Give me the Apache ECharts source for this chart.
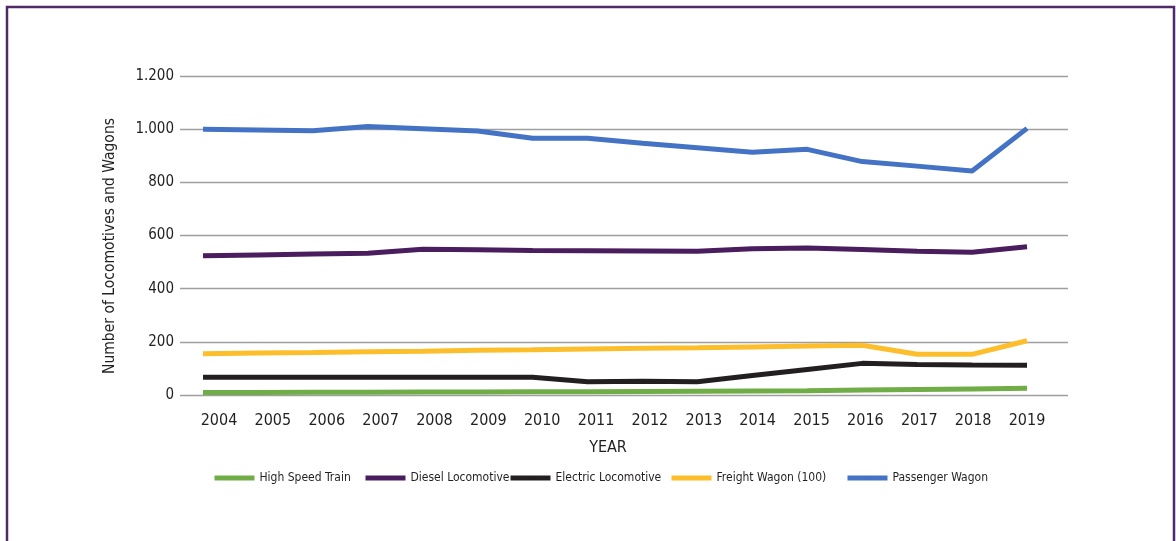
<!DOCTYPE html>
<html>
<head>
<meta charset="utf-8">
<script src="https://cdn.jsdelivr.net/npm/echarts@6/dist/echarts.min.js"></script>
<style>
  html, body { margin: 0; padding: 0; background: #fff; }
  #chart { width: 1176px; height: 541px; }
</style>
</head>
<body>
<div id="chart"></div>
<script>
const years = [2004, 2005, 2006, 2007, 2008, 2009, 2010, 2011, 2012, 2013, 2014, 2015, 2016, 2017, 2018, 2019];
const highSpeedTrain = [9, 9, 10, 10, 11, 11, 12, 12, 13, 14, 15, 16, 19, 21, 23, 25];
const dieselLocomotive = [524, 527, 530, 533, 548, 546, 544, 543, 542, 541, 550, 553, 547, 541, 537, 558];
const electricLocomotive = [67, 67, 67, 67, 67, 67, 67, 50, 52, 50, 73, 96, 119, 115, 113, 112];
const freightWagon = [155, 158, 160, 163, 165, 168, 170, 173, 176, 178, 181, 184, 187, 153, 153, 204];
const passengerWagon = [1000, 997, 994, 1010, 1002, 993, 966, 966, 947, 930, 913, 924, 878, 861, 843, 1003];

const seriesNames = ['High Speed Train', 'Diesel Locomotive', 'Electric Locomotive', 'Freight Wagon (100)', 'Passenger Wagon'];
const seriesValues = [highSpeedTrain, dieselLocomotive, electricLocomotive, freightWagon, passengerWagon];
const seriesColors = ['#70AD47', '#4A1D5E', '#231F20', '#FDBE2C', '#4472C4'];
const legendLeft = [212, 363, 508, 669, 845];

const FONT = "'DejaVu Sans Condensed', 'Liberation Sans', sans-serif";
const TXT = '#231F20';

function fmtY(v) {
  if (v >= 1000) return Math.floor(v / 1000) + '.' + String(v % 1000).padStart(3, '0');
  return String(v);
}

const chart = echarts.init(document.getElementById('chart'));
chart.setOption({
  animation: false,
  backgroundColor: '#fff',
  textStyle: { fontFamily: FONT, color: TXT },
  grid: { left: 180, right: 108, top: 76, bottom: 146 },
  xAxis: [
    { type: 'value', min: 2003.581, max: 2019.746, show: false },
    {
      type: 'value', min: 2003.276, max: 2019.761, position: 'bottom',
      axisLine: { show: false }, axisTick: { show: false }, splitLine: { show: false },
      axisLabel: { customValues: years, formatter: v => String(v), fontSize: 16, margin: 18, color: TXT, fontFamily: FONT }
    }
  ],
  yAxis: {
    type: 'value', min: 0, max: 1200, interval: 200,
    axisLine: { show: false }, axisTick: { show: false },
    axisLabel: { formatter: fmtY, fontSize: 15, margin: 6, color: TXT, fontFamily: FONT },
    splitLine: { lineStyle: { color: '#9E9E9E', width: 1.3 } }
  },
  legend: seriesNames.map((n, i) => ({
    data: [n], left: legendLeft[i], top: 469, padding: 0,
    itemWidth: 40, itemHeight: 5, itemGap: 6,
    lineStyle: { width: 5 },
    textStyle: { fontSize: 12, color: TXT, fontFamily: FONT, lineHeight: 18 }
  })),
  graphic: [
    { type: 'rect', shape: { x: 7, y: 7, width: 1167, height: 600 }, style: { fill: 'none', stroke: '#4E2A69', lineWidth: 2.5 }, silent: true },
    { type: 'text', x: 608, y: 448, style: { text: 'YEAR', fontSize: 16, fontFamily: FONT, fill: TXT, align: 'center', verticalAlign: 'middle' } },
    { type: 'text', x: 110, y: 246, rotation: Math.PI / 2, style: { text: 'Number of Locomotives and Wagons', fontSize: 15.5, fontFamily: FONT, fill: TXT, align: 'center', verticalAlign: 'middle' } }
  ],
  series: seriesNames.map((n, i) => ({
    name: n, type: 'line', xAxisIndex: 0,
    data: years.map((y, j) => [y, seriesValues[i][j]]),
    showSymbol: false, symbol: 'none',
    lineStyle: { width: 5, color: seriesColors[i] },
    itemStyle: { color: seriesColors[i] }
  }))
});
</script>
</body>
</html>
